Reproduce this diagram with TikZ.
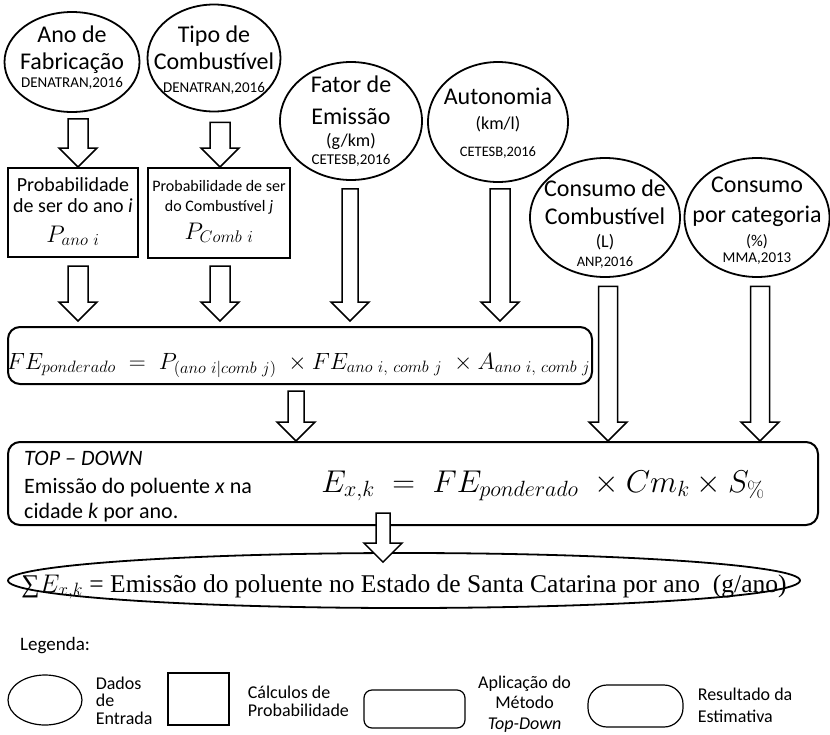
\RequirePackage{fix-cm}
\documentclass[tikz,border=0pt]{standalone}
\usepackage[no-math]{fontspec}
\setmainfont{Carlito}
\newfontfamily\serifo{Liberation Serif}
\usetikzlibrary{shapes.geometric,calc}

\newcommand{\fs}[2]{\fontsize{#1pt}{#2pt}\selectfont}
% lines of text, baseline at the first line: [alignment]{rows}
\newcommand{\linhas}[2][\centering]{\parbox[t]{300pt}{#1\lineskiplimit=-100pt #2}}
% hollow block arrow: [shaft half width]{start}{tip}
\newcommand{\blockarrow}[3][9]{%
  \draw[seta] let \p1=(#2), \p2=(#3) in
    (\x1-#1pt,\y1) -- (\x1-#1pt,\y2+19pt) -- (\x1-19pt,\y2+19pt) -- (\x1,\y2)
    -- (\x1+19pt,\y2+19pt) -- (\x1+#1pt,\y2+19pt) -- (\x1+#1pt,\y1) -- cycle;}

\tikzset{
  dado/.style={draw, ellipse, line width=1.8pt, inner sep=0pt},
  calc/.style={draw, rectangle, line width=2pt, inner sep=0pt},
  metodo/.style={draw, rectangle, rounded corners=12pt, line width=2pt, inner sep=0pt},
  txt/.style={inner sep=0pt, anchor=base},
  seta/.style={draw, line width=1.5pt, fill=white, line join=miter},
  leg/.style={draw, line width=1.2pt, inner sep=0pt},
}

\begin{document}
\begin{tikzpicture}[x=1pt, y=-1pt]
\useasboundingbox (0,0) rectangle (830,734);

% dados de entrada
\node[dado, minimum width=135pt, minimum height=100pt,
  label={[txt, yshift=-31pt]north:{\linhas{\fs{24}{27}Ano de\\Fabricação\\\fs{15}{18}DENATRAN,2016}}}] (ano) at (72,62) {};
\node[dado, minimum width=133pt, minimum height=107pt,
  label={[txt, yshift=-38.5pt]north:{\linhas{\fs{24}{27}Tipo de\\Combustível\\\fs{15}{23}DENATRAN,2016}}}] (tipo) at (214,58) {};
\node[dado, minimum width=142pt, minimum height=118pt,
  label={[txt, yshift=-31pt]north:{\linhas{\fs{24}{32}Fator de\\Emissão\\\fs{18}{22}(g/km)\\\fs{15}{18}CETESB,2016}}}] (fator) at (351,121) {};
\node[dado, minimum width=140pt, minimum height=120pt,
  label={[txt, yshift=-43pt]north:{\linhas{\fs{24}{24}Autonomia\\\fs{18}{25}(km/l)\\\fs{14.5}{27}CETESB,2016}}}] (auton) at (498,122) {};
\node[dado, minimum width=150pt, minimum height=119pt,
  label={[txt, yshift=-39pt]north:{\linhas{\fs{24}{28}Consumo de\\Combustível\\\fs{18}{23}(L)\\\fs{14.5}{19}ANP,2016}}}] (consumo) at (605,217.5) {};
\node[dado, minimum width=145pt, minimum height=119pt,
  label={[txt, yshift=-35pt]north:{\linhas{\fs{24}{30}Consumo\\por categoria\\\fs{16.5}{24}(\%)\\\fs{15}{16}MMA,2013}}}] (categ) at (757,217.5) {};

% calculos de probabilidade
\node[calc, minimum width=130pt, minimum height=89pt,
  label={[txt, yshift=-24pt]north:{\linhas{\fs{20}{21}Probabilidade\\de ser do ano \textit{i}\\\fs{24}{30}$P_{ano\ i}$}}}] (pano) at (73,212.5) {};
\node[calc, minimum width=142pt, minimum height=90pt,
  label={[txt, yshift=-24pt]north:{\linhas{\fs{16}{20}Probabilidade de ser\\do Combustível \textit{j}\\\fs{24}{28}$P_{Comb\ i}$}}}] (pcomb) at (219,213) {};

% fator ponderado
\node[metodo, minimum width=584pt, minimum height=57pt,
  label={[txt, xshift=-1.5pt, yshift=-43pt, font=\fs{23.5}{23.5}]north:{$FE_{ponderado} \;=\; P_{(ano\ i|comb\ j)} \;\times FE_{ano\ i,\ comb\ j} \;\times A_{ano\ i,\ comb\ j}$}}] (fe) at (300,355.5) {};

% metodo top-down
\node[metodo, minimum width=810pt, minimum height=83pt,
  label={[txt, anchor=base west, xshift=17pt, yshift=18.5pt]west:{\linhas[\raggedright]{\fs{22}{26}\textit{TOP – DOWN}\\\fs{22}{28}Emissão do poluente \textit{x} na\\\fs{22}{25}cidade \textit{k} por ano.}}},
  label={[txt, xshift=130pt, yshift=-51pt, font=\fs{31.5}{31.5}]north:{$E_{x,k} \;=\; FE_{ponderado} \;\times Cm_k \times S_{\%}$}}] (topdown) at (413,483.5) {};

% resultado
\node[dado, minimum width=792pt, minimum height=55pt,
  label={[txt, yshift=-40pt, font=\serifo\fs{25.5}{25.5}]north:{∑$E_{x,k}$ = Emissão do poluente no Estado de Santa Catarina por ano~~(g/ano)}}] (soma) at (404,580.5) {};

% setas
\blockarrow[10]{[xshift=6pt,yshift=-6pt]ano.south}{pano.north}
\blockarrow[10]{[xshift=6pt,yshift=-10pt]tipo.south}{pcomb.north}
\blockarrow[10]{[xshift=5pt,yshift=-8pt]pano.south}{[yshift=5pt]fe.north}
\blockarrow[10]{[xshift=1pt,yshift=-7pt]pcomb.south}{[yshift=5pt]fe.north}
\blockarrow[8]{[xshift=-1pt,yshift=-8pt]fator.south}{[yshift=5pt]fe.north}
\blockarrow[10]{[xshift=2pt,yshift=-6pt]auton.south}{[yshift=5pt]fe.north}
\blockarrow[8]{[xshift=-4pt,yshift=-6pt]fe.south}{topdown.north}
\blockarrow[9.5]{[xshift=3pt,yshift=-8.5pt]consumo.south}{topdown.north}
\blockarrow[9.5]{[xshift=3pt,yshift=-8.5pt]categ.south}{topdown.north}
\blockarrow[7]{[xshift=-30pt,yshift=13pt]topdown.south}{[yshift=-10pt]soma.north}

% legenda
\node[anchor=base west, inner sep=0pt, font=\fs{19}{19}] (legenda) at (20,650) {Legenda:};
\node[leg, ellipse, minimum width=74pt, minimum height=50pt,
  label={[txt, anchor=base west, xshift=13pt, yshift=11pt]east:{\linhas[\raggedright]{\fs{18}{17.5}Dados\\de\\Entrada}}}] (legdado) at (45,700) {};
\node[leg, rectangle, minimum width=61pt, minimum height=52pt,
  label={[txt, anchor=base west, xshift=18pt, yshift=1pt]east:{\linhas[\raggedright]{\fs{18}{18}Cálculos de\\Probabilidade}}}] (legcalc) at (198.5,699) {};
\node[leg, rectangle, rounded corners=8pt, minimum width=101pt, minimum height=38pt,
  label={[txt, xshift=59pt, yshift=21pt]east:{\linhas{\fs{18}{20.5}Aplicação do\\Método\\\textit{Top-Down}}}}] (legmet) at (414.5,709) {};
\node[leg, rectangle, rounded corners=19pt, minimum width=95pt, minimum height=42pt,
  label={[txt, anchor=base west, xshift=14pt, yshift=6pt]east:{\linhas[\raggedright]{\fs{18}{22}Resultado da\\Estimativa}}}] (legres) at (635.5,706) {};
\end{tikzpicture}
\end{document}
